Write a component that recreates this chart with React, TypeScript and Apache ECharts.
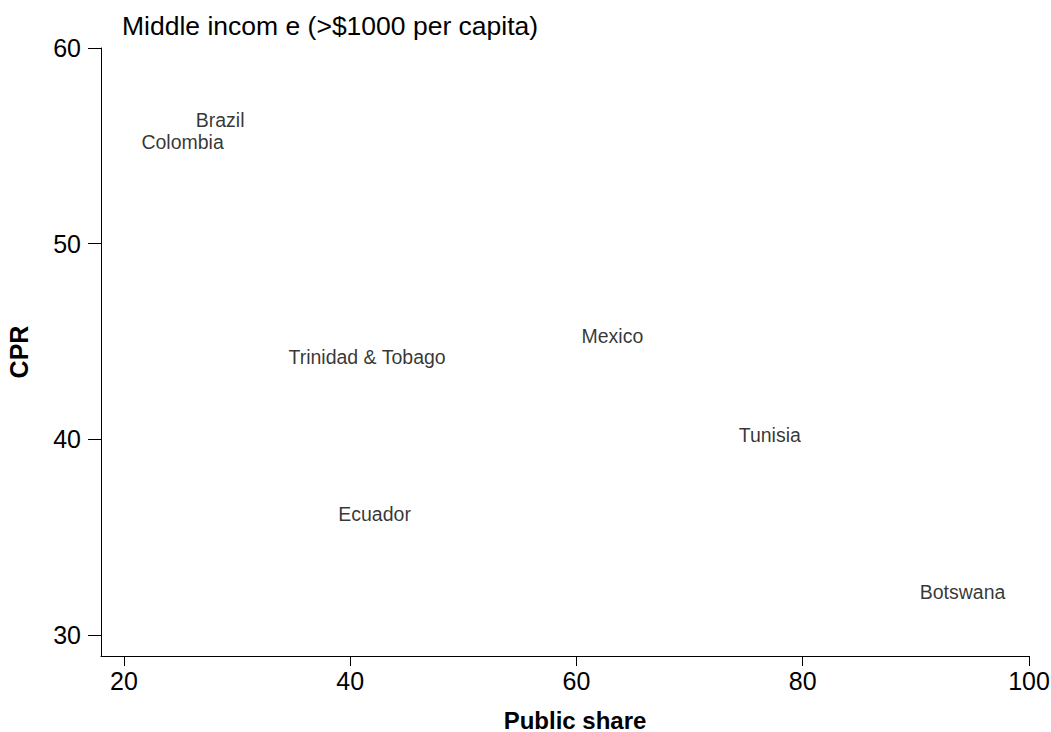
import React, { useEffect, useRef } from "react";
import * as echarts from "echarts";

const countries = ["Brazil", "Colombia", "Trinidad & Tobago", "Mexico", "Ecuador", "Tunisia", "Botswana"];
const publicShare = [25.9, 21.1, 34.1, 60.0, 38.5, 73.9, 89.9];
const cpr = [56.3, 55.2, 44.2, 45.3, 36.2, 40.2, 32.2];
const xTicks = [20, 40, 60, 80, 100];
const yTicks = [30, 40, 50, 60];

const FONT = "'Liberation Sans', Arial, Helvetica, sans-serif";

export default function App() {
  const ref = useRef<HTMLDivElement>(null);
  useEffect(() => {
    if (!ref.current) return;
    const chart = echarts.init(ref.current, undefined, { renderer: "svg" });
    const data = countries.map((c, i) => ({ name: c, value: [publicShare[i], cpr[i]] }));
    chart.setOption({
      animation: false,
      backgroundColor: "#ffffff",
      textStyle: { fontFamily: FONT, color: "#000" },
      title: {
        text: "Middle incom e (>$1000 per capita)",
        left: 122,
        top: 12,
        padding: 0,
        textStyle: { fontFamily: FONT, fontSize: 26.5, fontWeight: "normal", color: "#000" },
      },
      grid: { left: 101, top: 48, width: 928, height: 608, containLabel: false, outerBoundsMode: "none" },
      xAxis: {
        type: "value",
        min: 17.97,
        max: 100,
        name: "Public share",
        nameLocation: "middle",
        nameGap: 54,
        nameTextStyle: {
          fontFamily: FONT,
          fontSize: 24,
          lineHeight: 20,
          fontWeight: "bold",
          color: "#000",
          padding: [0, 0, 0, 20],
        },
        axisLine: { show: true, lineStyle: { color: "#000", width: 1 } },
        axisTick: { show: true, length: 10, customValues: xTicks, lineStyle: { color: "#000" } },
        axisLabel: { customValues: xTicks, fontFamily: FONT, fontSize: 25, color: "#000", margin: 12 },
        splitLine: { show: false },
      },
      yAxis: {
        type: "value",
        min: 28.93,
        max: 60,
        name: "CPR",
        nameLocation: "middle",
        nameGap: 70,
        nameTextStyle: { fontFamily: FONT, fontSize: 25, fontWeight: "bold", color: "#000" },
        axisLine: { show: true, lineStyle: { color: "#000", width: 1 } },
        axisTick: { show: true, length: 13, customValues: yTicks, lineStyle: { color: "#000" } },
        axisLabel: { customValues: yTicks, fontFamily: FONT, fontSize: 25, color: "#000", margin: 20 },
        splitLine: { show: false },
      },
      series: [
        {
          type: "scatter",
          symbolSize: 0,
          itemStyle: { color: "transparent" },
          data,
          label: {
            show: true,
            position: "right",
            distance: 5,
            formatter: (p: any) => p.name,
            fontFamily: FONT,
            fontSize: 19.5,
            color: "#000",
          },
          emphasis: { disabled: true },
        },
      ],
    });
    return () => chart.dispose();
  }, []);
  return <div ref={ref} style={{ position: "fixed", left: 0, top: 0, width: 1051, height: 732 }} />;
}
